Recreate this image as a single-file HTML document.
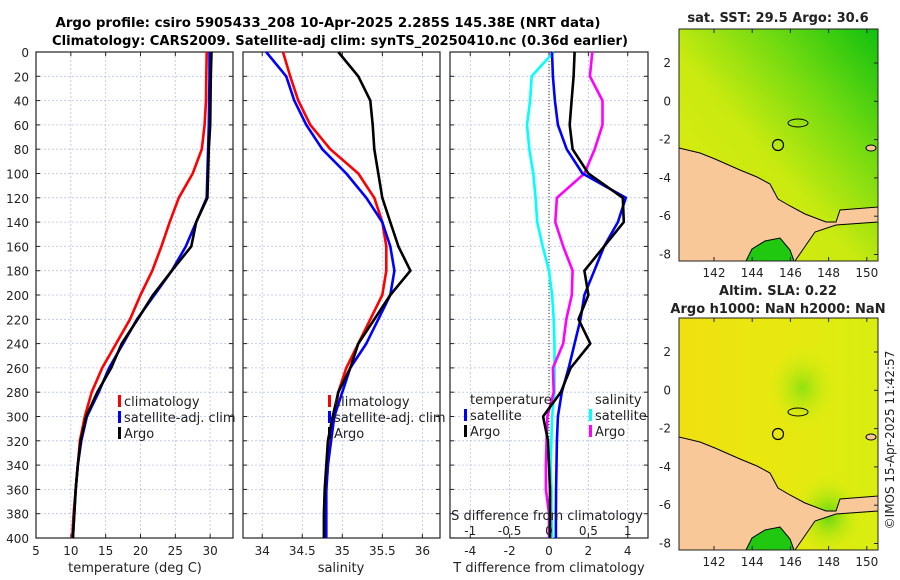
<!DOCTYPE html>
<html><head><meta charset="utf-8"><style>
body{margin:0;background:#fff;}
svg{display:block;font-family:"DejaVu Sans","Liberation Sans",sans-serif;}
</style></head><body>
<svg id="fig" width="900" height="580" viewBox="0 0 900 580">
<defs>
<linearGradient id="sstg" x1="0" y1="1" x2="1" y2="0">
<stop offset="0" stop-color="#e6ec10"/><stop offset="0.45" stop-color="#c8ea10"/><stop offset="0.72" stop-color="#70da10"/><stop offset="1" stop-color="#10c010"/></linearGradient>
<radialGradient id="slag1" cx="0.62" cy="0.3" r="0.18"><stop offset="0" stop-color="#90e010"/><stop offset="1" stop-color="#d6ee10" stop-opacity="0"/></radialGradient>
<radialGradient id="slag2" cx="0.75" cy="0.85" r="0.18"><stop offset="0" stop-color="#60d810"/><stop offset="1" stop-color="#d6ee10" stop-opacity="0"/></radialGradient>
<linearGradient id="slabg" x1="0" y1="0" x2="1" y2="0"><stop offset="0" stop-color="#f0e010"/><stop offset="0.5" stop-color="#e8e810"/><stop offset="1" stop-color="#d8ee10"/></linearGradient>
</defs>
<text x="328" y="27" font-size="13" font-weight="bold" text-anchor="middle" textLength="545" lengthAdjust="spacingAndGlyphs">Argo profile: csiro 5905433_208 10-Apr-2025 2.285S 145.38E (NRT data)</text>
<text x="340" y="45" font-size="13" font-weight="bold" text-anchor="middle" textLength="576" lengthAdjust="spacingAndGlyphs">Climatology: CARS2009. Satellite-adj clim: synTS_20250410.nc (0.36d earlier)</text>
<g id="charts"></g>
<g id="maps"></g>
<text transform="translate(894,440) rotate(-90)" font-size="12" text-anchor="middle" fill="#222">©IMOS 15-Apr-2025 11:42:57</text>
</svg>
<script>
// ---- data ----
const depths = [0,20,40,60,80,100,120,140,160,180,200,220,240,260,280,300,320,340,360,380,400];
const tClim = [29.5,29.45,29.4,29.2,28.8,27.5,25.5,24.2,23,21.7,20,18.5,16.5,14.5,13,12,11.3,11,10.7,10.4,10.2];
const tSat  = [29.9,29.9,29.85,29.8,29.7,29.6,29.5,28,26.5,24.5,22,19.5,17.5,15.5,14,12.3,11.5,11,10.7,10.5,10.3];
const tArgo = [30.2,30.1,30.05,30,29.8,29.7,29.6,28,27.3,24.5,21.8,19.6,17.3,15.8,13.8,12.2,11.4,11,10.7,10.5,10.3];
const sClim = [34.26,34.35,34.45,34.6,34.85,35.2,35.4,35.5,35.55,35.55,35.5,35.35,35.2,35.05,34.95,34.9,34.85,34.82,34.8,34.79,34.78];
const sSat  = [34.05,34.3,34.4,34.55,34.75,35.05,35.3,35.5,35.6,35.65,35.6,35.45,35.3,35.1,35.0,34.9,34.86,34.82,34.8,34.8,34.8];
const sArgo = [34.95,35.2,35.35,35.38,35.4,35.45,35.5,35.6,35.7,35.85,35.6,35.4,35.2,35.1,34.95,34.88,34.82,34.8,34.78,34.77,34.77];
const dtSat  = [0.15,0.2,0.3,0.45,0.9,1.7,3.9,3.5,2.8,2.3,1.8,1.6,1.3,1.0,0.65,0.45,0.4,0.38,0.36,0.35,0.35];
const dtArgo = [1.3,1.25,1.15,1.05,1.2,2.0,3.75,3.8,2.8,1.8,2.0,1.5,2.1,1.1,0.6,-0.3,-0.05,0,0.05,0.05,0.05];
const dsSat  = [0.06,-0.22,-0.24,-0.28,-0.25,-0.2,-0.17,-0.15,-0.08,0,0.04,0.06,0.07,0.07,0.07,0.04,0.03,0.02,0.03,0.03,0.04];
const dsArgo = [0.55,0.52,0.68,0.68,0.58,0.45,0.1,0.08,0.18,0.3,0.29,0.22,0.18,0.05,0.06,-0.02,-0.03,-0.04,-0.04,0,0];
const depthTicks = [0,20,40,60,80,100,120,140,160,180,200,220,240,260,280,300,320,340,360,380,400];
const tTicks = [5,10,15,20,25,30];
const sTicks = [34,34.5,35,35.5,36];
const sTickLabels = ["34","34.5","35","35.5","36"];
const dTicks = [-4,-2,0,2,4];
const dsTicks = [-1,-0.5,0,0.5,1];
const lonTicks = [142,144,146,148,150];
const latTicks = [2,0,-2,-4,-6,-8];

const NS="http://www.w3.org/2000/svg";
const charts=document.getElementById('charts');
function mk(tag,attrs,parent){const e=document.createElementNS(NS,tag);for(const k in attrs)e.setAttribute(k,attrs[k]);(parent||charts).appendChild(e);return e;}
function txt(x,y,s,size,anchor,parent){const t=mk('text',{x:x,y:y,'font-size':size,'text-anchor':anchor||'middle',fill:'#222'},parent);t.textContent=s;return t;}
const yTop=52,yBot=538;
const yD=d=>yTop+(d/400)*(yBot-yTop);

function panel(x0,x1,xmin,xmax,ticks,labels,name){
  const xs=v=>x0+(v-xmin)/(xmax-xmin)*(x1-x0);
  const g=mk('g',{});
  
  
  ticks.forEach(v=>{mk('line',{x1:xs(v),x2:xs(v),y1:yTop,y2:yBot,stroke:'#b8c0e8','stroke-width':0.8,'stroke-dasharray':'2,2'},g);});
  depthTicks.forEach(d=>{mk('line',{x1:x0,x2:x1,y1:yD(d),y2:yD(d),stroke:'#b8c0e8','stroke-width':0.8,'stroke-dasharray':'2,2'},g);
    mk('line',{x1:x0,x2:x0+4,y1:yD(d),y2:yD(d),stroke:'#222'},g);mk('line',{x1:x1-4,x2:x1,y1:yD(d),y2:yD(d),stroke:'#222'},g);});
  ticks.forEach((v,i)=>{mk('line',{x1:xs(v),x2:xs(v),y1:yBot,y2:yBot-4,stroke:'#222'},g);mk('line',{x1:xs(v),x2:xs(v),y1:yTop,y2:yTop+4,stroke:'#222'},g);
    if(labels[i]!=="")txt(xs(v),555,labels[i],12,'middle',g);});
  mk('rect',{x:x0,y:yTop,width:x1-x0,height:yBot-yTop,fill:'none',stroke:'#222','stroke-width':1.2},g);
  return {xs,g};
}
function line(xs,vals,color,name,g){
  const pts=vals.map((v,i)=>xs(v).toFixed(1)+','+yD(depths[i]).toFixed(1)).join(' ');
  const p=mk('polyline',{points:pts,fill:'none',stroke:color,'stroke-width':2.6,'stroke-linejoin':'round'},g);
  
  
}
function legend(x,y,items,g){items.forEach((it,i)=>{mk('rect',{x:x,y:y+i*16-11,width:3,height:12,fill:it[1]},g);txt(x+6,y+i*16,it[0],13,'start',g);});}

depthTicks.forEach(d=>{txt(29,yD(d)+5,String(d),12,'end');});

const p1=panel(36,233,5,33.28,tTicks,tTicks.map(String),'temperature-panel');
line(p1.xs,tClim,'#ff0000','temp-climatology-line',p1.g);
line(p1.xs,tSat,'#0000ff','temp-satellite-line',p1.g);
line(p1.xs,tArgo,'#000000','temp-argo-line',p1.g);
legend(118,406,[['climatology','#f00'],['satellite-adj. clim','#00f'],['Argo','#000']],p1.g);
txt(135,572,'temperature (deg C)',13);

const p2=panel(243,440,33.76,36.22,sTicks,sTickLabels,'salinity-panel');
line(p2.xs,sClim,'#ff0000','sal-climatology-line',p2.g);
line(p2.xs,sSat,'#0000ff','sal-satellite-line',p2.g);
line(p2.xs,sArgo,'#000000','sal-argo-line',p2.g);
legend(328,406,[['climatology','#f00'],['satellite-adj. clim','#00f'],['Argo','#000']],p2.g);
txt(341,572,'salinity',13);

const p3=panel(450,648,-5.03,5.03,dTicks,dTicks.map(String),'difference-panel');
const xsS=v=>p3.xs(v*4);
mk('line',{x1:p3.xs(0),x2:p3.xs(0),y1:yTop,y2:yBot,stroke:'#333','stroke-width':1,'stroke-dasharray':'1,2'},p3.g);
line(xsS,dsSat,'#00ffff','sal-diff-satellite-line',p3.g);
line(xsS,dsArgo,'#ff00ff','sal-diff-argo-line',p3.g);
line(p3.xs,dtSat,'#0000ff','temp-diff-satellite-line',p3.g);
line(p3.xs,dtArgo,'#000000','temp-diff-argo-line',p3.g);
txt(470,404,'temperature',13,'start',p3.g);
legend(464,420,[['satellite','#00f'],['Argo','#000']],p3.g);
txt(595,404,'salinity',13,'start',p3.g);
legend(589,420,[['satellite','#0ff'],['Argo','#f0f']],p3.g);
txt(547,520,'S difference from climatology',13,'middle',p3.g);
dsTicks.forEach(v=>txt(xsS(v),535,String(v),12,'middle',p3.g));
txt(549,572,'T difference from climatology',13);

// ---- maps ----
const maps=document.getElementById('maps');
function mapPanel(y0,name,bg,extra){
  const x0=679,x1=878,h=232;
  const g=mk('g',{},maps);
  
  
  mk('rect',{x:x0,y:y0,width:x1-x0,height:h,fill:bg},g);
  extra(g,x0,y0);
  const o=y0-29;
  const land=[[679,148],[700,153],[715,159],[740,170],[757,177],[770,184],[778,199],[790,206],[805,214],[826,222],[836,222],[840,210],[878,207],[878,222],[836,225],[815,232],[795,261],[679,261]];
  mk('polygon',{points:land.map(p=>p[0]+','+(p[1]+o)).join(' '),fill:'#f8c898',stroke:'#000','stroke-width':1},g);
  mk('polygon',{points:[[746,261],[752,249],[765,241],[780,238],[790,250],[794,261]].map(p=>p[0]+','+(p[1]+o)).join(' '),fill:'#20c810',stroke:'#000','stroke-width':1},g);
  mk('ellipse',{cx:798,cy:123+o,rx:10,ry:4,fill:'none',stroke:'#000','stroke-width':1},g);
  mk('ellipse',{cx:871,cy:148+o,rx:5,ry:3,fill:'#f8c898',stroke:'#000','stroke-width':1},g);
  mk('circle',{cx:778,cy:145+o,r:5.5,fill:'none',stroke:'#000','stroke-width':1.2},g);
  mk('rect',{x:x0,y:y0,width:x1-x0,height:h,fill:'none',stroke:'#222','stroke-width':1},g);
  lonTicks.forEach(v=>{const x=714+(v-142)*19.1;mk('line',{x1:x,x2:x,y1:y0+h,y2:y0+h-4,stroke:'#222'},g);mk('line',{x1:x,x2:x,y1:y0,y2:y0+4,stroke:'#222'},g);txt(x,y0+h+16,String(v),12,'middle',g);});
  latTicks.forEach(v=>{const y=y0+34+(2-v)*19.15;mk('line',{x1:x1,x2:x1-4,y1:y,y2:y,stroke:'#222'},g);txt(x0-8,y+4,String(v),12,'end',g);});
}
mapPanel(29,'sst-map','url(#sstg)',(g,x,y)=>{});
mapPanel(318,'sla-map','url(#slabg)',(g,x,y)=>{
  mk('rect',{x:x,y:y,width:199,height:232,fill:'url(#slag1)'},g);
  mk('rect',{x:x,y:y,width:199,height:232,fill:'url(#slag2)'},g);
});
txt(778,22,'sat. SST: 29.5 Argo: 30.6',13,'middle',maps).setAttribute('font-weight','bold');
txt(778,295,'Altim. SLA: 0.22',13,'middle',maps).setAttribute('font-weight','bold');
txt(778,313,'Argo h1000: NaN h2000: NaN',13,'middle',maps).setAttribute('font-weight','bold');
</script>
</body></html>
